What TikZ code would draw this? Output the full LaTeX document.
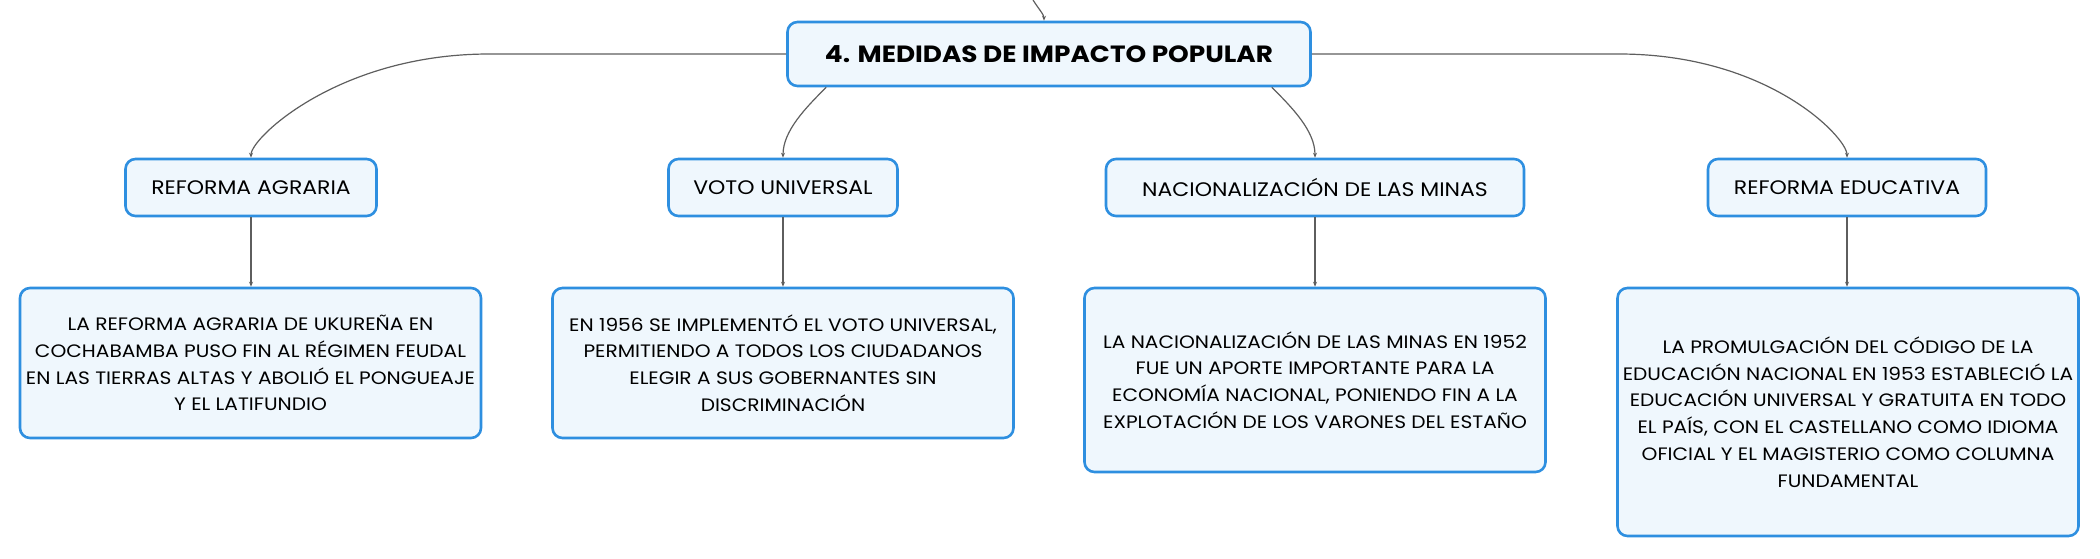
\documentclass[tikz,border=0pt]{standalone}
\usepackage{fontspec}
\setmainfont{Poppins}[FakeStretch=1.12]
\usetikzlibrary{arrows.meta,positioning}
\definecolor{borde}{HTML}{2E8FE0}
\definecolor{fondo}{HTML}{EFF7FD}
\definecolor{linea}{HTML}{5E5E5E}
\tikzset{%
	caja/.style   = {draw=borde, line width=2.6pt, fill=fondo, rounded corners=10pt, align=center, inner sep=0pt},
	root/.style   = {caja, minimum width=523pt, minimum height=64pt, font=\fontsize{23.5}{28}\selectfont\bfseries}, % Tema
	block/.style  = {caja, minimum height=57pt, font=\fontsize{19.6}{23}\selectfont}, % Medida
	leaf/.style   = {caja, minimum width=461pt, font=\fontsize{18}{26.7}\selectfont} % Detalle
}

\begin{document}
\begin{tikzpicture}[x=1pt, y=-1pt, line width=1.2pt, >={Stealth[length=5pt,width=4pt]}]
	\useasboundingbox (0,0) rectangle (2100,558);
	\draw % Tema y medidas :
	node at (1049,54) [root] (medidas) {4. MEDIDAS DE IMPACTO POPULAR}
	node at (251,187.5) [block, minimum width=251pt] (agraria) {REFORMA AGRARIA}
	node at (783,187.5) [block, minimum width=229pt] (voto) {VOTO UNIVERSAL}
	node at (1315,187.5) [block, minimum width=418pt] (minas) {NACIONALIZACIÓN DE LAS MINAS}
	node at (1847,187.5) [block, minimum width=278pt] (educativa) {REFORMA EDUCATIVA}
	;
	\draw % Detalles :
	node at (250.5,363) [leaf, minimum height=150pt] (dagraria) {LA REFORMA AGRARIA DE UKUREÑA EN\\COCHABAMBA PUSO FIN AL RÉGIMEN FEUDAL\\EN LAS TIERRAS ALTAS Y ABOLIÓ EL PONGUEAJE\\Y EL LATIFUNDIO}
	node at (783,363) [leaf, minimum height=150pt] (dvoto) {EN 1956 SE IMPLEMENTÓ EL VOTO UNIVERSAL,\\PERMITIENDO A TODOS LOS CIUDADANOS\\ELEGIR A SUS GOBERNANTES SIN\\DISCRIMINACIÓN}
	node at (1315,380) [leaf, minimum height=184pt] (dminas) {LA NACIONALIZACIÓN DE LAS MINAS EN 1952\\FUE UN APORTE IMPORTANTE PARA LA\\ECONOMÍA NACIONAL, PONIENDO FIN A LA\\EXPLOTACIÓN DE LOS VARONES DEL ESTAÑO}
	node at (1848,412) [leaf, minimum height=248pt] (deducativa) {LA PROMULGACIÓN DEL CÓDIGO DE LA\\EDUCACIÓN NACIONAL EN 1953 ESTABLECIÓ LA\\EDUCACIÓN UNIVERSAL Y GRATUITA EN TODO\\EL PAÍS, CON EL CASTELLANO COMO IDIOMA\\OFICIAL Y EL MAGISTERIO COMO COLUMNA\\FUNDAMENTAL}
	;
	\coordinate (arriba) at (1033,0);

	% Uniendo bloques.
	\draw[->, linea] (arriba) .. controls +(5,8) and +(0,-6) .. ([xshift=-5pt]medidas.north);
	\draw[->, linea] (medidas.west) -- ++(-297,0) .. controls +(-150,0) and +(0,-20) .. (agraria.north);
	\draw[->, linea] ([xshift=40pt]medidas.south west) .. controls +(-20,20) and +(0,-27) .. (voto.north);
	\draw[->, linea] ([xshift=-40pt]medidas.south east) .. controls +(20,20) and +(0,-27) .. (minas.north);
	\draw[->, linea] (medidas.east) -- ++(307,0) .. controls +(150,0) and +(0,-20) .. (educativa.north);
	\draw[->, linea] (agraria.south) -- (agraria.south |- dagraria.north);
	\draw[->, linea] (voto.south) -- (voto.south |- dvoto.north);
	\draw[->, linea] (minas.south) -- (minas.south |- dminas.north);
	\draw[->, linea] (educativa.south) -- (educativa.south |- deducativa.north);
\end{tikzpicture}
\end{document}
